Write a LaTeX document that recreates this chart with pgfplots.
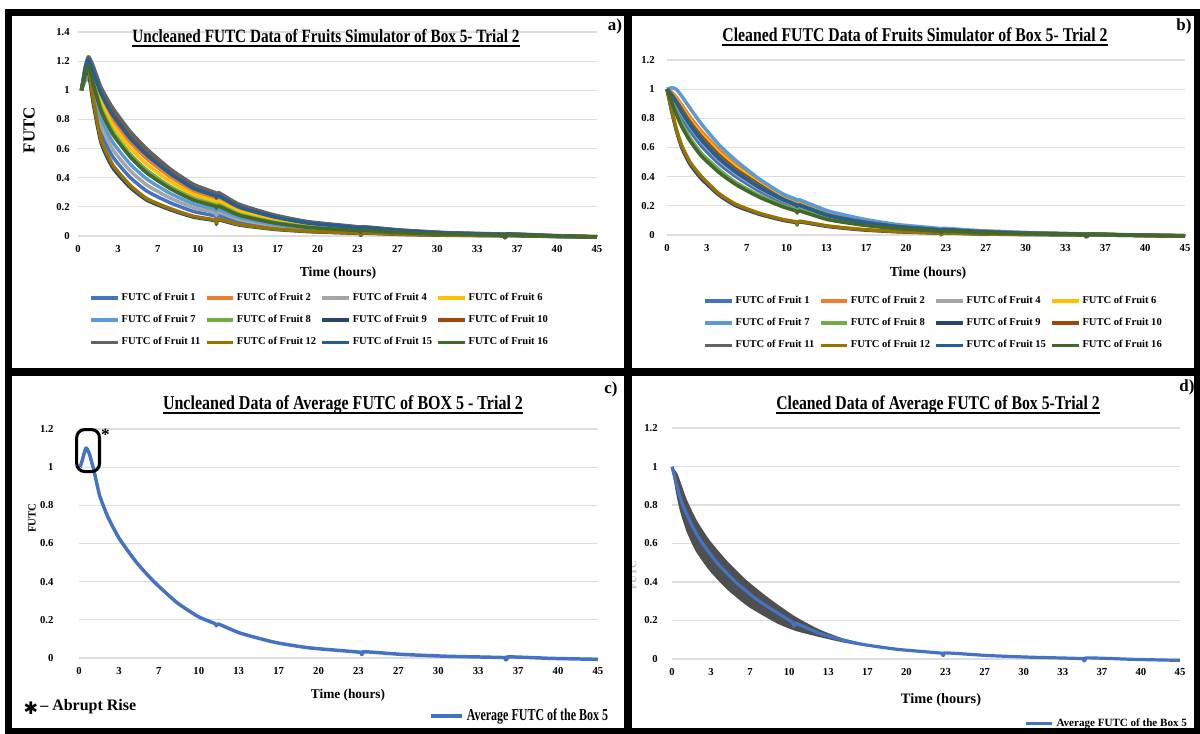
\documentclass[border=0pt]{standalone}
\usepackage{fontspec}
\setmainfont{Liberation Serif}
\newfontfamily\condfont{Liberation Serif}[FakeStretch=0.81]
\newfontfamily\condfontB{Liberation Serif}[FakeStretch=0.72]
\newfontfamily\dejavu{DejaVu Sans}
\usepackage{pgfplots}
\usepackage{pgfplotstable}
\pgfplotsset{compat=1.18}

\definecolor{cF1}{HTML}{4472C4}
\definecolor{cF2}{HTML}{ED7D31}
\definecolor{cF4}{HTML}{A5A5A5}
\definecolor{cF6}{HTML}{FFC000}
\definecolor{cF7}{HTML}{5B9BD5}
\definecolor{cF8}{HTML}{70AD47}
\definecolor{cF9}{HTML}{264478}
\definecolor{cF10}{HTML}{9E480E}
\definecolor{cF11}{HTML}{636363}
\definecolor{cF12}{HTML}{997300}
\definecolor{cF15}{HTML}{255E91}
\definecolor{cF16}{HTML}{43682B}
\definecolor{bandgray}{HTML}{4F4F4F}
\definecolor{gridc}{HTML}{DDDDDD}

% Uncleaned FUTC of the fruits (panel a)
\pgfplotstableread{
t    f1     f2     f4     f6     f7     f8     f9     f10    f11    f12    f15    f16
0.3  1.00   1.00   1.00   1.00   1.00   1.00   1.00   1.00   1.00   1.00   1.00   1.00
0.6  1.10   1.12   1.10   1.105  1.06   1.09   1.10   1.14   1.15   1.11   1.13   1.10
0.9  1.14   1.19   1.14   1.17   1.08   1.15   1.13   1.22   1.23   1.16   1.21   1.17
1.3  0.96   1.11   0.99   1.087  1.02   1.06   0.92   1.15   1.17   0.95   1.13   1.05
2    0.71   0.952  0.76   0.916  0.81   0.88   0.64   1.00   1.02   0.66   0.976  0.86
3    0.545  0.804  0.595  0.762  0.645  0.72   0.47   0.86   0.88   0.49   0.832  0.70
4.5  0.404  0.646  0.45   0.606  0.496  0.565  0.335  0.70   0.72   0.35   0.673  0.545
6    0.307  0.528  0.348  0.489  0.389  0.45   0.245  0.58   0.595  0.255  0.554  0.43
8    0.228  0.406  0.26   0.373  0.292  0.34   0.18   0.45   0.46   0.188  0.428  0.325
10   0.169  0.311  0.195  0.286  0.221  0.26   0.13   0.345  0.355  0.136  0.328  0.247
11.9 0.138  0.26   0.16   0.238  0.182  0.215  0.105  0.29   0.298  0.11   0.275  0.204
12.0 0.12   0.245  0.14   0.225  0.17   0.2    0.08   0.275  0.283  0.088  0.26   0.19
12.2 0.14   0.26   0.163  0.238  0.184  0.215  0.11   0.29   0.298  0.115  0.275  0.205
14   0.098  0.186  0.113  0.168  0.128  0.15   0.075  0.21   0.217  0.079  0.198  0.142
17   0.061  0.122  0.071  0.109  0.08   0.095  0.046  0.14   0.145  0.049  0.131  0.09
20   0.04   0.082  0.046  0.072  0.052  0.062  0.03   0.095  0.098  0.032  0.088  0.059
24.4 0.023  0.051  0.028  0.045  0.032  0.038  0.017  0.06   0.062  0.019  0.056  0.036
24.5 0.011  0.039  0.016  0.033  0.02   0.026  0.005  0.048  0.05   0.008  0.044  0.024
24.7 0.026  0.053  0.03   0.047  0.034  0.04   0.02   0.062  0.064  0.022  0.058  0.038
28   0.015  0.034  0.018  0.029  0.02   0.024  0.011  0.04   0.041  0.012  0.037  0.023
32   0.007  0.018  0.009  0.016  0.011  0.013  0.005  0.022  0.023  0.006  0.02   0.012
36.9 0.003  0.009  0.004  0.008  0.005  0.006  0.001  0.012  0.013  0.002  0.011  0.005
37.0 -0.01  -0.004 -0.01  -0.005 -0.008 -0.007 -0.012 0.0    0.001  -0.01  -0.002 -0.008
37.2 0.004  0.011  0.005  0.01   0.006  0.008  0.003  0.014  0.015  0.004  0.013  0.007
41   -0.002 0.002  -0.002 0.001  -0.001 0.0    -0.003 0.003  0.004  -0.002 0.002  -0.001
45   -0.007 -0.006 -0.007 -0.006 -0.006 -0.006 -0.007 -0.005 -0.005 -0.006 -0.005 -0.006
}\dataA

% Cleaned FUTC of the fruits (panel b)
\pgfplotstableread{
t    f1     f2     f4     f6     f7     f8     f9     f10    f11    f12    f15    f16
0    1.00   1.00   1.00   1.00   1.00   1.00   1.00   1.00   1.00   1.00   1.00   1.00
0.4  0.94   0.98   0.95   0.97   1.01   0.92   0.85   0.965  0.96   0.86   0.955  0.91
0.8  0.88   0.945  0.90   0.93   1.00   0.845  0.72   0.92   0.915  0.73   0.91   0.83
1.3  0.80   0.89   0.83   0.87   0.95   0.76   0.595  0.86   0.85   0.61   0.84   0.74
2    0.715  0.81   0.745  0.79   0.87   0.665  0.485  0.775  0.765  0.5    0.755  0.645
3    0.61   0.71   0.64   0.69   0.76   0.56   0.385  0.675  0.66   0.40   0.65   0.54
4.5  0.49   0.585  0.515  0.565  0.62   0.45   0.275  0.55   0.535  0.285  0.525  0.43
6    0.4    0.48   0.42   0.465  0.51   0.36   0.2    0.45   0.44   0.21   0.43   0.345
8    0.302  0.37   0.32   0.355  0.385  0.272  0.143  0.345  0.335  0.15   0.327  0.26
10   0.226  0.265  0.24   0.255  0.285  0.204  0.102  0.248  0.25   0.108  0.245  0.195
11.2 0.19   0.225  0.2    0.215  0.245  0.172  0.085  0.208  0.21   0.09   0.205  0.165
11.3 0.178  0.215  0.19   0.205  0.235  0.158  0.068  0.198  0.2    0.072  0.195  0.15
11.5 0.188  0.222  0.198  0.213  0.242  0.172  0.09   0.206  0.208  0.095  0.203  0.165
14   0.122  0.147  0.13   0.14   0.165  0.11   0.058  0.135  0.137  0.062  0.134  0.105
17   0.08   0.097  0.085  0.092  0.11   0.071  0.035  0.089  0.09   0.038  0.087  0.068
20   0.052  0.063  0.055  0.06   0.072  0.046  0.022  0.058  0.058  0.024  0.057  0.044
23.7 0.031  0.039  0.033  0.037  0.045  0.027  0.012  0.035  0.035  0.013  0.034  0.026
23.8 0.021  0.029  0.023  0.027  0.035  0.017  0.002  0.025  0.025  0.003  0.024  0.016
24   0.033  0.041  0.035  0.039  0.046  0.029  0.014  0.037  0.037  0.015  0.036  0.028
27   0.02   0.026  0.022  0.025  0.031  0.018  0.007  0.024  0.023  0.008  0.023  0.017
31   0.011  0.015  0.012  0.014  0.018  0.01   0.003  0.013  0.013  0.004  0.012  0.009
36.3 0.004  0.006  0.004  0.005  0.007  0.003  -0.001 0.005  0.005  0.0    0.004  0.003
36.4 -0.008 -0.006 -0.008 -0.007 -0.005 -0.009 -0.013 -0.007 -0.007 -0.012 -0.008 -0.009
36.6 0.005  0.007  0.005  0.006  0.008  0.004  0.001  0.006  0.006  0.002  0.005  0.004
40   0.0    0.001  0.0    0.001  0.002  -0.001 -0.003 0.0    0.0    -0.003 0.0    -0.001
45   -0.006 -0.005 -0.006 -0.005 -0.005 -0.006 -0.007 -0.005 -0.006 -0.007 -0.006 -0.006
}\dataB

\pgfplotsset{
  panel/.style={
    scale only axis, anchor=south west,
    axis line style={draw=none}, major tick length=0pt,
    ymajorgrids, grid style={draw=gridc, line width=0.8pt},
    xmin=0, xmax=45, ymin=0, clip=false,
    xtick={0,3.4615,6.9231,10.3846,13.8462,17.3077,20.7692,24.2308,27.6923,31.1538,34.6154,38.0769,41.5385,45},
    xticklabels={0,3,7,10,13,17,20,23,27,30,33,37,40,45},
    tick label style={font=\bfseries\fontsize{8}{8}\selectfont},
    /pgf/number format/assume math mode=true,
    xticklabel style={inner sep=0pt, anchor=north, yshift=-7pt},
    yticklabel style={inner sep=0pt, anchor=east},
    legend cell align=left,
  },
  fruitlegend/.style={
    legend columns=4,
    legend image code/.code={\draw[##1, line width=2.4pt] (0pt,0pt) -- (20pt,0pt);},
    legend style={draw=none, fill=none, inner sep=0pt,
      font=\bfseries\fontsize{7.9}{9}\selectfont,
      row sep=6.5pt,
      nodes={inner sep=1.5pt},
      /tikz/every even column/.append style={column sep=2pt}},
  },
  every axis plot/.append style={line width=2.6pt, smooth, tension=0.35, line join=round},
}

\begin{document}
\begin{tikzpicture}[x=0.75pt,y=-0.75pt]
\path[use as bounding box] (0,0) rectangle (1200,733);
\fill[white] (0,0) rectangle (1200,733);

% ---------------- panel a
\begin{axis}[panel, fruitlegend, at={(58.5pt,-177pt)}, width=389.25pt, height=153pt,
  ymax=1.4, ytick={0,0.2,0.4,0.6,0.8,1,1.2,1.4},
  yticklabels={0,0.2,0.4,0.6,0.8,1,1.2,1.4},
  yticklabel style={xshift=-6pt},
  legend style={at={(0.466,-0.412)}, anchor=center}]
\addplot[cF1]  table[x=t,y=f1]{\dataA};  \addlegendentry{FUTC of Fruit 1}
\addplot[cF2]  table[x=t,y=f2]{\dataA};  \addlegendentry{FUTC of Fruit 2}
\addplot[cF4]  table[x=t,y=f4]{\dataA};  \addlegendentry{FUTC of Fruit 4}
\addplot[cF6]  table[x=t,y=f6]{\dataA};  \addlegendentry{FUTC of Fruit 6}
\addplot[cF7]  table[x=t,y=f7]{\dataA};  \addlegendentry{FUTC of Fruit 7}
\addplot[cF8]  table[x=t,y=f8]{\dataA};  \addlegendentry{FUTC of Fruit 8}
\addplot[cF9]  table[x=t,y=f9]{\dataA};  \addlegendentry{FUTC of Fruit 9}
\addplot[cF10] table[x=t,y=f10]{\dataA}; \addlegendentry{FUTC of Fruit 10}
\addplot[cF11] table[x=t,y=f11]{\dataA}; \addlegendentry{FUTC of Fruit 11}
\addplot[cF12] table[x=t,y=f12]{\dataA}; \addlegendentry{FUTC of Fruit 12}
\addplot[cF15] table[x=t,y=f15]{\dataA}; \addlegendentry{FUTC of Fruit 15}
\addplot[cF16] table[x=t,y=f16]{\dataA}; \addlegendentry{FUTC of Fruit 16}
\end{axis}

% ---------------- panel b
\begin{axis}[panel, fruitlegend, at={(500.25pt,-176.25pt)}, width=388.5pt, height=131.25pt,
  ymax=1.2, ytick={0,0.2,0.4,0.6,0.8,1,1.2},
  yticklabels={0,0.2,0.4,0.6,0.8,1,1.2},
  yticklabel style={xshift=-9pt},
  legend style={at={(0.515,-0.503)}, anchor=center}]
\addplot[cF1]  table[x=t,y=f1]{\dataB};  \addlegendentry{FUTC of Fruit 1}
\addplot[cF2]  table[x=t,y=f2]{\dataB};  \addlegendentry{FUTC of Fruit 2}
\addplot[cF4]  table[x=t,y=f4]{\dataB};  \addlegendentry{FUTC of Fruit 4}
\addplot[cF6]  table[x=t,y=f6]{\dataB};  \addlegendentry{FUTC of Fruit 6}
\addplot[cF7]  table[x=t,y=f7]{\dataB};  \addlegendentry{FUTC of Fruit 7}
\addplot[cF8]  table[x=t,y=f8]{\dataB};  \addlegendentry{FUTC of Fruit 8}
\addplot[cF9]  table[x=t,y=f9]{\dataB};  \addlegendentry{FUTC of Fruit 9}
\addplot[cF10] table[x=t,y=f10]{\dataB}; \addlegendentry{FUTC of Fruit 10}
\addplot[cF11] table[x=t,y=f11]{\dataB}; \addlegendentry{FUTC of Fruit 11}
\addplot[cF12] table[x=t,y=f12]{\dataB}; \addlegendentry{FUTC of Fruit 12}
\addplot[cF15] table[x=t,y=f15]{\dataB}; \addlegendentry{FUTC of Fruit 15}
\addplot[cF16] table[x=t,y=f16]{\dataB}; \addlegendentry{FUTC of Fruit 16}
\end{axis}

% ---------------- panel c
\begin{axis}[panel, at={(59.25pt,-493.5pt)}, width=389.25pt, height=171.75pt,
  ymax=1.2, ytick={0,0.2,0.4,0.6,0.8,1,1.2},
  yticklabels={0,0.2,0.4,0.6,0.8,1,1.2},
  yticklabel style={xshift=-19pt},
  legend image code/.code={\draw[#1, line width=3pt] (0pt,0pt) -- (23pt,0pt);},
  legend style={draw=none, fill=none, at={(0.85,-0.253)}, anchor=center,
    font=\condfontB\bfseries\fontsize{12.5}{13}\selectfont}]
\addplot[cF1, line width=2.6pt] coordinates {
(0.1,1.0) (0.3,1.04) (0.6,1.10) (0.9,1.07) (1.3,0.98) (1.8,0.85) (2.5,0.74)
(3.5,0.625) (5,0.5) (6.5,0.4) (8.5,0.29) (10.4,0.215) (11.8,0.18) (11.9,0.168)
(12.1,0.178) (14,0.13) (17,0.082) (20,0.053) (24.4,0.03) (24.5,0.018) (24.7,0.033)
(28,0.019) (32,0.009) (36.9,0.002) (37.0,-0.01) (37.2,0.006) (41,-0.002) (45,-0.007)};
\addlegendentry{Average FUTC of the Box 5}
\draw[line width=2.3pt, rounded corners=6pt] (axis cs:-0.2,0.977) rectangle (axis cs:1.78,1.197);
\node[font=\bfseries\fontsize{13}{13}\selectfont, inner sep=0pt] at (axis cs:2.3,1.17) {*};
\end{axis}

% ---------------- panel d
\begin{axis}[panel, at={(504pt,-494.25pt)}, width=381pt, height=173.25pt,
  ymax=1.2, ytick={0,0.2,0.4,0.6,0.8,1,1.2},
  yticklabels={0,0.2,0.4,0.6,0.8,1,1.2},
  yticklabel style={xshift=-10.5pt},
  legend image code/.code={\draw[#1, line width=2.3pt] (0pt,0pt) -- (20pt,0pt);},
  legend style={draw=none, fill=none, at={(0.856,-0.281)}, anchor=center,
    font=\bfseries\fontsize{8.3}{9}\selectfont}]
\addplot[draw=none, fill=bandgray, forget plot] coordinates {
(0,1.0) (0.5,0.96) (1.3,0.83) (2.2,0.72) (3.3,0.62) (4.8,0.515) (6.6,0.41) (8.5,0.32)
(10.8,0.225) (13,0.155) (15,0.11) (17,0.08) (20,0.052)
(20,0.047) (17,0.068) (15,0.088) (13,0.115) (11,0.145) (9.3,0.185) (6.8,0.27) (4.9,0.36)
(3.3,0.46) (2.1,0.56) (1.3,0.66) (0.7,0.77) (0.3,0.88) (0,1.0)};
\addplot[cF1, line width=2.4pt] coordinates {
(0,1.0) (0.45,0.895) (0.95,0.8) (1.8,0.69) (2.7,0.6) (4,0.5) (5.65,0.4) (7.5,0.31)
(10,0.215) (10.7,0.19) (10.8,0.17) (11.0,0.185) (13,0.135) (15,0.1) (17,0.075)
(20,0.05) (23.9,0.03) (24.0,0.018) (24.2,0.032) (28,0.018) (32,0.009) (36.4,0.002)
(36.5,-0.01) (36.7,0.006) (41,-0.002) (45,-0.007)};
\addlegendentry{Average FUTC of the Box 5}
\end{axis}

% ---------------- titles
\node[anchor=base, inner sep=0pt, font=\condfont\bfseries\fontsize{14.1}{15}\selectfont] (ta) at (326,42)
  {Uncleaned FUTC Data of Fruits Simulator of Box 5- Trial 2};
\draw[line width=1.4pt] ([yshift=-3pt]ta.base west) -- ([yshift=-3pt]ta.base east);
\node[anchor=base, inner sep=0pt, font=\condfont\bfseries\fontsize{14.6}{15}\selectfont] (tb) at (915,41)
  {Cleaned FUTC Data of Fruits Simulator of Box 5- Trial 2};
\draw[line width=1.4pt] ([yshift=-3pt]tb.base west) -- ([yshift=-3pt]tb.base east);
\node[anchor=base, inner sep=0pt, font=\condfont\bfseries\fontsize{14.8}{15}\selectfont] (tc) at (343,409)
  {Uncleaned Data of Average FUTC of BOX 5 - Trial 2};
\draw[line width=1.4pt] ([yshift=-3pt]tc.base west) -- ([yshift=-3pt]tc.base east);
\node[anchor=base, inner sep=0pt, font=\condfont\bfseries\fontsize{14.6}{15}\selectfont] (td) at (938,409)
  {Cleaned Data of Average FUTC of Box 5-Trial 2};
\draw[line width=1.4pt] ([yshift=-3pt]td.base west) -- ([yshift=-3pt]td.base east);

% ---------------- axis labels
\node[font=\bfseries\fontsize{10.3}{11}\selectfont] at (338,273) {Time (hours)};
\node[font=\bfseries\fontsize{10.3}{11}\selectfont] at (928,273) {Time (hours)};
\node[font=\bfseries\fontsize{10}{11}\selectfont] at (348,695) {Time (hours)};
\node[font=\bfseries\fontsize{10.8}{11}\selectfont] at (941,700) {Time (hours)};
\node[rotate=90, font=\bfseries\fontsize{12.7}{13}\selectfont] at (29,130) {FUTC};
\node[rotate=90, font=\bfseries\fontsize{8.2}{9}\selectfont] at (32,518) {FUTC};
\node[rotate=90, text=black!25, font=\bfseries\fontsize{8}{9}\selectfont] at (633,575) {FUTC};

% ---------------- panel letters
\node[font=\bfseries\fontsize{12.7}{13}\selectfont] at (615,26) {a)};
\node[font=\bfseries\fontsize{12.7}{13}\selectfont] at (1184,26) {b)};
\node[font=\bfseries\fontsize{12.7}{13}\selectfont] at (611,389) {c)};
\node[font=\bfseries\fontsize{12.7}{13}\selectfont] at (1187,387) {d)};

% ---------------- note
\node[font=\dejavu\bfseries\fontsize{13}{13}\selectfont, inner sep=0pt] at (31,708) {✱};
\node[anchor=west, inner sep=0pt, font=\bfseries\fontsize{12}{13}\selectfont] at (40,707) {– Abrupt Rise};

% ---------------- frames
\draw[line width=5.25pt] (8.5,12) rectangle (1197,731.5);
\draw[line width=6pt] (628,12) -- (628,731.5);
\draw[line width=6pt] (8.5,372) -- (1197,372);
\end{tikzpicture}
\end{document}
